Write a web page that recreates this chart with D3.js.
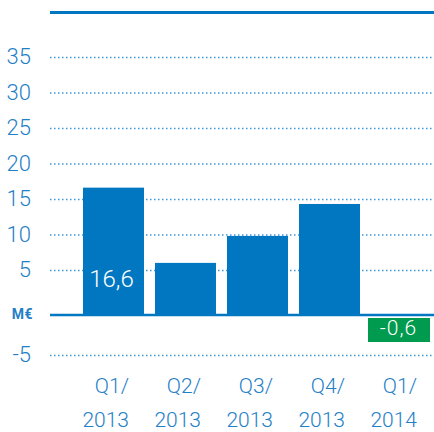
<!DOCTYPE html>
<html>
<head>
<meta charset="utf-8">
<script src="https://cdn.jsdelivr.net/npm/d3@7"></script>
<style>
    html, body { margin: 0; padding: 0; background: #fff; }
    svg { display: block; font-family: Roboto, "DejaVu Sans", sans-serif; }
</style>
</head>
<body>
<div id="chart"></div>
<script>
// Quarterly result, M€
const quarters = ['Q1/2013', 'Q2/2013', 'Q3/2013', 'Q4/2013', 'Q1/2014'];
const values = [16.6, 6.0, 9.8, 14.3, -0.6];
const labels = ['16,6', null, null, null, '-0,6'];
const yTicks = [35, 30, 25, 20, 15, 10, 5, -5];

const BLUE = '#0077c0';
const GREEN = '#009b4e';
const TEXT = '#1f80c6';

const width = 434, height = 432;
const svg = d3.select('#chart').append('svg')
    .attr('width', width)
    .attr('height', height);

const x = d3.scaleBand().domain(quarters).range([83, 432])
    .paddingInner(0.153).paddingOuter(0).align(0);

// the chart leaves a wider gap around zero, so the scale is piecewise
const y = d3.scaleLinear().domain([-5, 0, 5, 35]).range([355, 314, 270, 57]);

// top rule
svg.append('line')
    .attr('x1', 50).attr('x2', width)
    .attr('y1', 12.5).attr('y2', 12.5)
    .attr('stroke', BLUE).attr('stroke-width', 3);

// dotted grid
svg.selectAll('.grid')
    .data(yTicks)
    .join('line')
    .attr('class', 'grid')
    .attr('x1', 50).attr('x2', width)
    .attr('y1', d => y(d) + 0.5).attr('y2', d => y(d) + 0.5)
    .attr('stroke', '#3d97d6')
    .attr('stroke-width', 1.5)
    .attr('stroke-dasharray', '1.5,2.5');

// y labels
svg.selectAll('.ylab')
    .data(yTicks)
    .join('text')
    .attr('class', 'ylab')
    .attr('x', 31)
    .attr('y', d => y(d) + 7)
    .attr('text-anchor', 'end')
    .attr('fill', TEXT)
    .style('font-size', '22px')
    .style('font-weight', 300)
    .text(d => d < 0 ? '-' + Math.abs(d) : d);

svg.append('text')
    .attr('x', 33).attr('y', y(0) + 5)
    .attr('text-anchor', 'end')
    .attr('fill', TEXT)
    .style('font-size', '14px')
    .style('font-weight', 'bold')
    .style('letter-spacing', '0.5px')
    .text('M€');

// bars
const data = quarters.map((q, i) => ({ q, v: values[i], label: labels[i] }));

svg.selectAll('.bar')
    .data(data.filter(d => d.v >= 0))
    .join('rect')
    .attr('class', 'bar')
    .attr('x', d => x(d.q))
    .attr('width', x.bandwidth())
    .attr('y', d => y(d.v))
    .attr('height', d => y(0) - y(d.v))
    .attr('fill', BLUE);

// negative value: green label box under the baseline
const neg = data.filter(d => d.v < 0);
svg.selectAll('.neg')
    .data(neg)
    .join('rect')
    .attr('class', 'neg')
    .attr('x', d => x(d.q) - 3)
    .attr('width', x.bandwidth() + 1)
    .attr('y', y(0) + 4)
    .attr('height', d => Math.max(y(d.v) - y(0), 24))
    .attr('fill', GREEN);

// zero line
svg.append('line')
    .attr('x1', 50).attr('x2', width)
    .attr('y1', y(0) + 1).attr('y2', y(0) + 1)
    .attr('stroke', BLUE).attr('stroke-width', 2.5);

// value labels
svg.selectAll('.vlab')
    .data(data.filter(d => d.label && d.v >= 0))
    .join('text')
    .attr('class', 'vlab')
    .attr('x', d => x(d.q) + x.bandwidth() / 2 - 2)
    .attr('y', y(5) + 17)
    .attr('text-anchor', 'middle')
    .attr('fill', '#fff')
    .style('font-size', '24px')
    .style('font-weight', 300)
    .text(d => d.label);

svg.selectAll('.nlab')
    .data(neg)
    .join('text')
    .attr('class', 'nlab')
    .attr('x', d => x(d.q) + x.bandwidth() / 2 - 3)
    .attr('y', y(0) + 21)
    .attr('text-anchor', 'middle')
    .attr('fill', '#fff')
    .style('font-size', '21px')
    .style('font-weight', 300)
    .style('letter-spacing', '1px')
    .text(d => d.label);

// x labels, two lines
const xl = svg.selectAll('.xlab')
    .data(quarters)
    .join('text')
    .attr('class', 'xlab')
    .attr('text-anchor', 'end')
    .attr('fill', TEXT)
    .style('font-size', '21px')
    .style('font-weight', 300);

xl.append('tspan')
    .attr('x', d => x(d) + 46)
    .attr('y', 393)
    .text(d => d.split('/')[0] + '/');

xl.append('tspan')
    .attr('x', d => x(d) + 46)
    .attr('y', 427)
    .text(d => d.split('/')[1]);
</script>
</body>
</html>
